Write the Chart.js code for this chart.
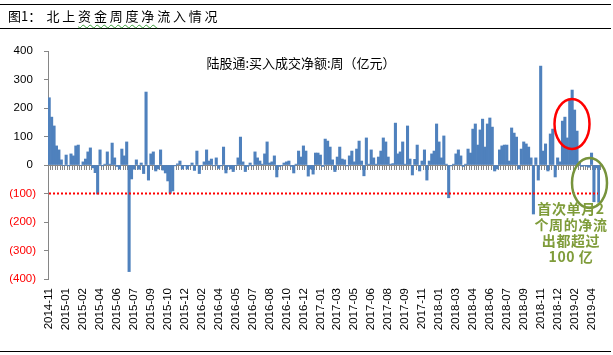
<!DOCTYPE html>
<html><head><meta charset="utf-8">
<script src="https://cdn.jsdelivr.net/npm/chart.js@4"></script>
<style>
html,body{margin:0;padding:0;background:#fff;}
#wrap{position:relative;width:613px;height:355px;overflow:hidden;background:#fff;}
#c{position:absolute;left:0;top:0;}
.rule{position:absolute;left:0;width:611px;height:1px;background:#000;}
.cjk{font-family:"Noto Sans CJK SC","Noto Sans CJK JP",sans-serif;white-space:nowrap;position:absolute;}
#t1{left:8px;top:7px;font-size:13px;line-height:18px;color:#000;}
#t2{left:46.5px;top:7px;font-size:13px;line-height:18px;color:#000;letter-spacing:2.8px;}
.wavy{text-decoration:underline wavy #3ca03c;text-decoration-thickness:1px;text-underline-offset:3px;}
#series{left:151px;width:300px;top:55px;font-size:13px;line-height:16px;text-align:center;color:#000;}
#note{left:521px;width:100px;top:200px;font-size:14px;line-height:16px;text-align:center;font-weight:bold;color:#7f9c3a;letter-spacing:0.6px;}
</style></head>
<body>
<div id="wrap">
  <canvas id="c" width="613" height="355"></canvas>
  <div class="rule" style="top:4px"></div>
  <div class="rule" style="top:28px"></div>
  <div class="rule" style="top:351px"></div>
  <div id="t1" class="cjk">图1：</div>
  <div id="t2" class="cjk">北上<span class="wavy">资金周度净</span>流入情况</div>
  <div id="series" class="cjk"></div>
  <div id="note" class="cjk"></div>
</div>
<script>
// ---- data ----
const tickLabels = ['2014-11','2015-01','2015-02','2015-04','2015-06','2015-07','2015-09','2015-10','2015-12',
  '2016-02','2016-04','2016-05','2016-07','2016-08','2016-10','2016-12','2017-01','2017-03','2017-05','2017-06',
  '2017-08','2017-09','2017-11','2018-01','2018-03','2018-04','2018-06','2018-07','2018-09','2018-11','2018-12',
  '2019-02','2019-04'];
const weeksPerLabel = 7;
const netInflow = [
  236,168,137,67,53,18,-2,35,-3,39,
  32,67,70,-2,11,21,46,60,-10,-27,
  -102,53,-3,3,46,3,77,25,-5,-14,
  56,32,81,-374,-49,-15,18,-15,7,-30,
  256,-53,39,46,-21,-14,53,-18,-28,-56,
  -99,-91,-3,4,14,-14,-3,-14,-3,7,
  -19,49,-30,-3,11,53,14,21,-3,25,
  -12,-3,63,-28,-5,-14,-23,-2,25,98,
  11,-23,-5,7,-3,46,25,14,3,39,
  81,7,11,32,-42,-5,-3,7,11,14,
  -5,-28,3,49,28,67,49,-39,-14,-32,
  42,42,35,-5,91,84,63,18,-23,28,
  63,21,18,-3,32,49,11,56,84,14,
  -38,95,3,53,25,3,28,49,95,81,
  28,3,5,147,39,46,81,3,137,21,
  -35,20,70,-21,14,53,-53,14,39,49,
  144,81,25,102,3,-115,-3,3,39,53,
  32,-5,3,56,42,126,144,70,123,161,
  63,144,165,133,-21,-14,53,67,70,70,
  14,130,112,98,-14,56,81,74,63,25,
  -172,25,-53,347,49,74,-21,109,126,-42,
  25,11,154,168,95,228,263,193,119,11,
  -5,-3,-5,-8,42,-129,-10,-131
];
const yMin = -400, yMax = 400, yStep = 100;
const refLevel = -100;
const seriesTitle = '陆股通:买入成交净额:周（亿元）';
const noteLines = ['首次单月2', '个周的净流', '出都超过', '100 亿'];

const categories = netInflow.map((_, i) => tickLabels[Math.floor(i / weeksPerLabel)]);

document.getElementById('series').textContent = seriesTitle;
document.getElementById('note').innerHTML = noteLines.join('<br>');

const axisFont = {family: '"Liberation Sans", Arial, sans-serif', size: 11.5};

const overlay = {
  id: 'overlay',
  afterDatasetsDraw(chart) {
    const {ctx, chartArea: a, scales: {y}} = chart;
    const yy = y.getPixelForValue(refLevel);
    ctx.save();
    ctx.strokeStyle = '#FF0000';
    ctx.lineWidth = 2;
    ctx.setLineDash([2, 2]);
    ctx.beginPath();
    ctx.moveTo(a.left + 1, yy);
    ctx.lineTo(a.right - 2, yy);
    ctx.stroke();
    ctx.restore();
  },
  afterDraw(chart) {
    const {ctx} = chart;
    ctx.save();
    ctx.lineWidth = 2.5;
    ctx.strokeStyle = '#FF0000';
    ctx.beginPath();
    ctx.ellipse(572, 124, 17.5, 25, 0, 0, Math.PI * 2);
    ctx.stroke();
    ctx.strokeStyle = '#77933C';
    ctx.beginPath();
    ctx.ellipse(589.5, 183, 17.5, 25, 0, 0, Math.PI * 2);
    ctx.stroke();
    ctx.restore();
  }
};

new Chart(document.getElementById('c'), {
  type: 'bar',
  data: {
    labels: categories,
    datasets: [{
      data: netInflow,
      backgroundColor: '#4F81BD',
      borderWidth: 0,
      barPercentage: 1,
      categoryPercentage: 1,
      xAxisID: 'x',
      yAxisID: 'y'
    }]
  },
  options: {
    responsive: false,
    animation: false,
    devicePixelRatio: 1,
    layout: {padding: {top: 51, right: 13, bottom: 0, left: 0}},
    plugins: {legend: {display: false}, tooltip: {enabled: false}},
    scales: {
      x: {
        type: 'category',
        position: {y: 0},
        offset: true,
        z: 1,
        grid: {display: true, offset: true, drawOnChartArea: false, drawTicks: true, tickLength: 4, color: '#868686', lineWidth: 1},
        border: {display: true, color: '#868686', width: 1},
        ticks: {display: false, autoSkip: false}
      },
      x2: {
        type: 'category',
        axis: 'x',
        position: 'bottom',
        offset: true,
        grid: {display: false, drawTicks: false},
        border: {display: false},
        afterFit(s) { s.height = 76; s.paddingLeft = 0; s.paddingRight = 0; },
        ticks: {
          autoSkip: false, maxRotation: 90, minRotation: 90, padding: 9,
          color: '#000', font: axisFont,
          callback(v, i) { return i % weeksPerLabel === 0 ? this.getLabelForValue(v) : ''; }
        }
      },
      y: {
        position: 'left',
        min: yMin, max: yMax,
        afterFit(s) { s.width = 48; s.paddingTop = 0; s.paddingBottom = 0; },
        grid: {display: true, drawOnChartArea: false, drawTicks: true, tickLength: 4, color: '#868686'},
        border: {display: true, color: '#868686', width: 1},
        ticks: {
          stepSize: yStep, padding: 8, font: axisFont,
          color: (c) => (c.tick && c.tick.value < 0) ? '#FF0000' : '#000',
          callback: (v) => v < 0 ? '(' + (-v) + ')' : v + ' '
        }
      }
    }
  },
  plugins: [overlay]
});
</script>
</body></html>
